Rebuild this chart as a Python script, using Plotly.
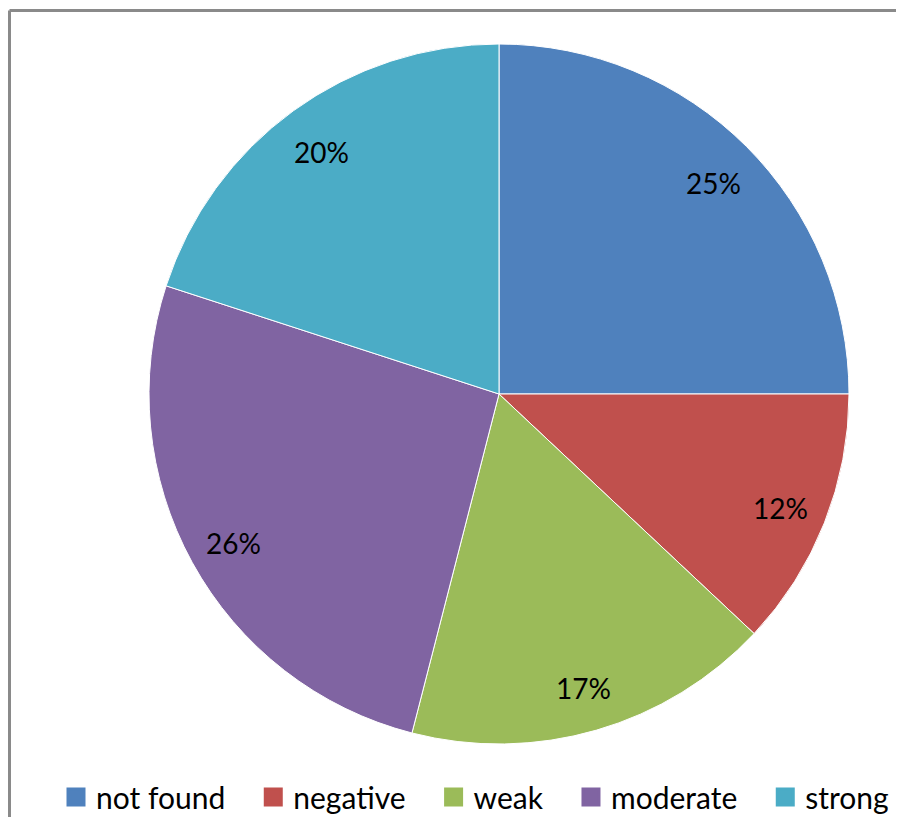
import math
import plotly.graph_objects as go

categories = ["not found", "negative", "weak", "moderate", "strong"]
values = [25, 12, 17, 26, 20]
colors = ["#4F81BD", "#C0504D", "#9BBB59", "#8064A2", "#4BACC6"]

OFF = 8  # page body margin
W, H = 904 - 2 * OFF, 825 - 2 * OFF
cx, cy, R = 499 - OFF, 394 - OFF, 350

fig = go.Figure()
fig.add_trace(go.Pie(
    labels=categories, values=values, sort=False, direction="clockwise", rotation=0,
    marker=dict(colors=colors, line=dict(color="white", width=1)),
    textinfo="none", hoverinfo="label+percent", showlegend=False,
    domain=dict(x=[(cx - R) / W, (cx + R) / W], y=[1 - (cy + R) / H, 1 - (cy - R) / H]),
))
for i, (c, col) in enumerate(zip(categories, colors)):
    pad = "" if i == len(categories) - 1 else "\u00a0" * 3
    fig.add_trace(go.Scatter(x=[None], y=[None], mode="markers", name=c + pad,
                             marker=dict(symbol="square", size=16, color=col,
                                         line=dict(color=col, width=3))))

total = sum(values)
cum = 0
annotations = []
for v in values:
    mid = (cum + v / 2) / total * 2 * math.pi
    cum += v
    px = cx + 0.865 * R * math.sin(mid)
    py = cy - 0.865 * R * math.cos(mid) + 3
    annotations.append(dict(x=px / W, y=1 - py / H, xref="paper", yref="paper",
                            xanchor="center", yanchor="middle",
                            text=f"{round(v / total * 100)}%", showarrow=False,
                            font=dict(size=28, color="black", family="Lato")))

border = dict(color="#8a8a8a", width=3)
fig.update_layout(
    width=W, height=H, margin=dict(l=0, r=0, t=0, b=0, autoexpand=False),
    paper_bgcolor="white", plot_bgcolor="white",
    xaxis=dict(visible=False), yaxis=dict(visible=False),
    font=dict(family="Lato", size=30, color="black"),
    annotations=annotations,
    legend=dict(orientation="h", xref="container", yref="container",
                x=(475 - OFF) / W, xanchor="center", y=1 - (797 - OFF) / H,
                yanchor="middle", font=dict(size=30, family="Lato"), itemwidth=30,
                tracegroupgap=0, bgcolor="rgba(0,0,0,0)"),
    shapes=[
        dict(type="line", xref="paper", yref="paper", x0=1.5 / W, x1=1.05,
             y0=1 - 2.5 / H, y1=1 - 2.5 / H, line=border, layer="below"),
        dict(type="line", xref="paper", yref="paper", x0=1.5 / W, x1=1.5 / W,
             y0=-0.05, y1=1 - 2.5 / H, line=border, layer="below"),
    ],
)
fig.write_html("out.html")
